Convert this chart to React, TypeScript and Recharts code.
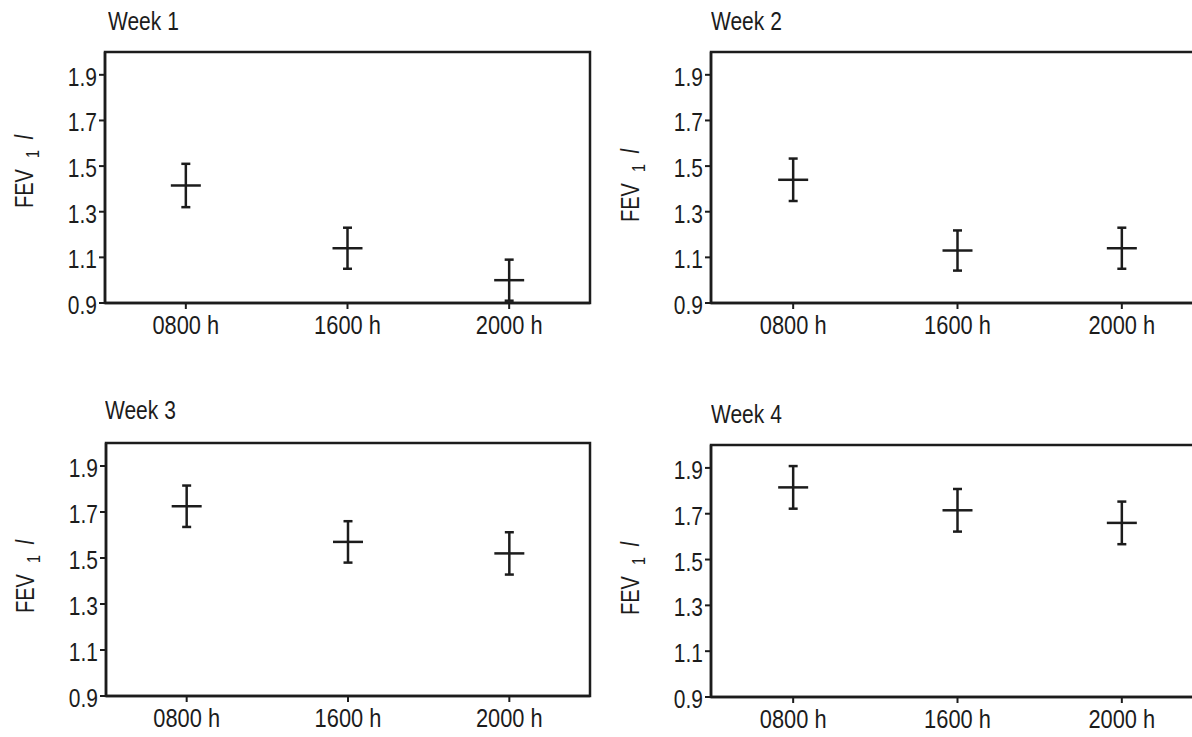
import React from 'react';
import { ComposedChart, Scatter, XAxis, YAxis, ErrorBar, ReferenceArea } from 'recharts';

const categories = ['0800 h', '1600 h', '2000 h'];
const categoryPositions = [1, 2, 3];
const yTicks = [0.9, 1.1, 1.3, 1.5, 1.7, 1.9];
const yDomain = [0.9, 2.0];
const weekTitles = ['Week 1', 'Week 2', 'Week 3', 'Week 4'];

const week1Means = [1.415, 1.14, 1.0];
const week1Errors = [0.095, 0.09, 0.09];
const week2Means = [1.44, 1.13, 1.14];
const week2Errors = [0.093, 0.088, 0.09];
const week3Means = [1.725, 1.57, 1.52];
const week3Errors = [0.09, 0.09, 0.092];
const week4Means = [1.815, 1.715, 1.66];
const week4Errors = [0.093, 0.093, 0.093];

const FONT = "'Liberation Sans', Arial, Helvetica, sans-serif";
const INK = '#1c1c1c';
const SQUEEZE = 0.84;

const build = (means: number[], errs: number[]) =>
  categoryPositions.map((x, i) => ({ x, y: means[i], err: errs[i] }));

const panels = [
  { title: weekTitles[0], data: build(week1Means, week1Errors), left: 0, top: 0, width: 600, height: 340, margin: { top: 52, right: 10, left: 45, bottom: 0 }, titleX: 108, titleTop: 9, labelOffset: 156 },
  { title: weekTitles[1], data: build(week2Means, week2Errors), left: 600, top: 0, width: 610, height: 340, margin: { top: 52, right: 6, left: 51, bottom: 0 }, titleX: 711, titleTop: 9, labelOffset: 170 },
  { title: weekTitles[2], data: build(week3Means, week3Errors), left: 0, top: 370, width: 600, height: 367, margin: { top: 73, right: 10, left: 46, bottom: 4 }, titleX: 105, titleTop: 398, labelOffset: 170 },
  { title: weekTitles[3], data: build(week4Means, week4Errors), left: 600, top: 370, width: 610, height: 367, margin: { top: 75, right: 6, left: 51, bottom: 3 }, titleX: 711, titleTop: 402, labelOffset: 170 },
];

const MeanMark = (props: any) => {
  const { cx, cy } = props;
  if (cx == null || cy == null) return null;
  return <line x1={cx - 15} x2={cx + 15} y1={cy} y2={cy} stroke={INK} strokeWidth={2.5} />;
};

const XTick = (props: any) => {
  const { x, y, payload } = props;
  return (
    <g transform={`translate(${x},${y})`}>
      <text x={0} y={0} dy={25} textAnchor="middle" fill={INK} fontFamily={FONT} fontSize={26} transform={`scale(${SQUEEZE},1)`}>
        {categories[payload.value - 1]}
      </text>
    </g>
  );
};

const YTick = (props: any) => {
  const { x, y, payload } = props;
  return (
    <g transform={`translate(${x},${y})`}>
      <text x={0} y={0} dy={11} textAnchor="end" fill={INK} fontFamily={FONT} fontSize={25} transform={`scale(${SQUEEZE},1)`}>
        {Number(payload.value).toFixed(1)}
      </text>
    </g>
  );
};

const makeYLabel = (offset: number) => (props: any) => {
  const vb = props.viewBox || {};
  const x = (vb.x ?? 0) + (vb.width ?? 60) - 72;
  const y = (vb.y ?? 0) + offset;
  return (
    <g transform={`translate(${x},${y}) rotate(-90) scale(0.8,1)`}>
      <text x={0} y={0} textAnchor="start" fill={INK} fontFamily={FONT} fontSize={25}>
        FEV
        <tspan dx={14} dy={6} fontSize={18}>1</tspan>
        <tspan dx={13} dy={-6} fontStyle="italic">l</tspan>
      </text>
    </g>
  );
};

const Panel = ({ p }: { p: any }) => {
  const YLabel = makeYLabel(p.labelOffset);
  return (
    <div style={{ position: 'absolute', left: p.left, top: p.top }}>
      <ComposedChart width={p.width} height={p.height} data={p.data} margin={p.margin}>
        <ReferenceArea x1={0.5} x2={3.5} y1={yDomain[0]} y2={yDomain[1]} fill="none" stroke={INK} strokeWidth={2.5} ifOverflow="visible" />
        <XAxis
          type="number"
          dataKey="x"
          domain={[0.5, 3.5]}
          ticks={categoryPositions}
          height={37}
          tickSize={6}
          tickMargin={0}
          axisLine={{ stroke: INK, strokeWidth: 2.5 }}
          tickLine={{ stroke: INK, strokeWidth: 2 }}
          tick={<XTick />}
          allowDataOverflow
        />
        <YAxis
          type="number"
          dataKey="y"
          domain={yDomain}
          ticks={yTicks}
          width={60}
          tickSize={6}
          tickMargin={2}
          interval={0}
          axisLine={{ stroke: INK, strokeWidth: 2.5 }}
          tickLine={{ stroke: INK, strokeWidth: 2 }}
          tick={<YTick />}
          allowDataOverflow
          label={<YLabel />}
        />
        <Scatter dataKey="y" fill={INK} shape={<MeanMark />} isAnimationActive={false}>
          <ErrorBar dataKey="err" direction="y" width={4.5} stroke={INK} strokeWidth={2.5} isAnimationActive={false} />
        </Scatter>
      </ComposedChart>
      <div
        style={{
          position: 'absolute',
          left: p.titleX - p.left,
          top: p.titleTop - p.top,
          fontFamily: FONT,
          fontSize: 25,
          lineHeight: 1,
          color: INK,
          whiteSpace: 'nowrap',
          transform: `scaleX(${SQUEEZE})`,
          transformOrigin: 'left top',
        }}
      >
        {p.title}
      </div>
    </div>
  );
};

export default function App() {
  return (
    <div style={{ position: 'absolute', left: 0, top: 0, width: 1192, height: 737, overflow: 'hidden', background: '#fff' }}>
      {panels.map((p, i) => (
        <Panel key={i} p={p} />
      ))}
    </div>
  );
}
